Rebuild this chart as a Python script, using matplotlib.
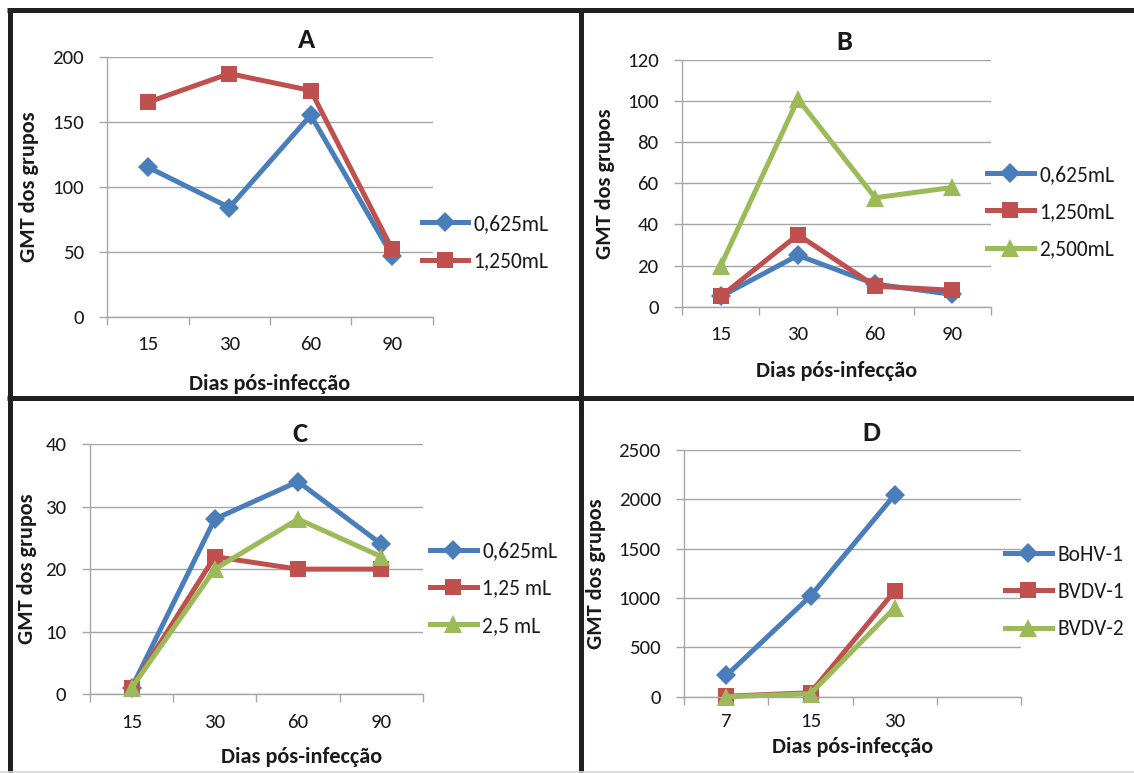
import matplotlib
matplotlib.use("Agg")
import matplotlib.pyplot as plt
from matplotlib.lines import Line2D
from matplotlib import font_manager

fonts = font_manager.fontManager.ttflist
def has_bold(name):
    return any(f.name == name and (f.weight in ('bold', 700, 'heavy') or
               (isinstance(f.weight, int) and f.weight >= 600)) for f in fonts)
names = {f.name for f in fonts}
CANDS = ['Carlito', 'Calibri', 'Lato', 'Open Sans', 'Liberation Sans']
FONT = next((c for c in CANDS if c in names and has_bold(c)), 'DejaVu Sans')
plt.rcParams['font.family'] = [FONT, 'DejaVu Sans']

# ---- data ----
days_abc = ["15", "30", "60", "90"]
days_d = ["7", "15", "30", ""]

a_labels = ["0,625mL", "1,250mL"]
a_0625 = [115, 84, 155, 47]
a_1250 = [165, 187, 174, 52]

b_labels = ["0,625mL", "1,250mL", "2,500mL"]
b_0625 = [5, 25, 11, 6]
b_1250 = [5, 35, 10, 8]
b_2500 = [20, 101, 53, 58]

c_labels = ["0,625mL", "1,25 mL", "2,5 mL"]
c_0625 = [1, 28, 34, 24]
c_125 = [1, 22, 20, 20]
c_25 = [1, 20, 28, 22]

d_labels = ["BoHV-1", "BVDV-1", "BVDV-2"]
d_bohv1 = [215, 1020, 2045]
d_bvdv1 = [5, 40, 1070]
d_bvdv2 = [0, 30, 900]

W, H = 1134, 773
DPI = 100
fig = plt.figure(figsize=(W / DPI, H / DPI), dpi=DPI)
fig.patch.set_facecolor('white')

BLUE = '#4A7EBB'
RED = '#C0504D'
GREEN = '#9BBB59'
GRID = '#A6A6A6'
TXT = '#1a1a1a'
STY = [dict(color=BLUE, marker='D', markersize=10),
       dict(color=RED, marker='s', markersize=11.5),
       dict(color=GREEN, marker='^', markersize=12.5)]


def fax(l, t, r, b):
    return fig.add_axes([l / W, 1 - b / H, (r - l) / W, (b - t) / H])


def panel(box, cats, series, labels, ymax, ystep, title, title_xy,
          leg_xy, ylab_x, xlab_x=0.5, xlab_y=-0.22, xpad=14):
    ax = fax(*box)
    for vals, lab, st in zip(series, labels, STY):
        ax.plot(range(len(vals)), vals, lw=3.6, label=lab,
                markeredgewidth=0, solid_joinstyle='round', clip_on=False, **st)
    ax.set_xlim(-0.5, len(cats) - 0.5)
    ax.set_ylim(0, ymax)
    ax.set_yticks(range(0, ymax + 1, ystep))
    ax.set_xticks(range(len(cats)))
    ax.set_xticklabels(cats)
    ax.set_xticks([i - 0.5 for i in range(len(cats) + 1)], minor=True)
    ax.tick_params(axis='x', which='major', length=0, pad=xpad, labelsize=15, labelcolor=TXT)
    ax.tick_params(axis='x', which='minor', length=6, width=1, color=GRID, direction='out')
    ax.tick_params(axis='y', length=6, width=1, color=GRID, pad=11, labelsize=15, labelcolor=TXT)
    ax.grid(axis='y', color=GRID, lw=1)
    ax.set_axisbelow(True)
    for s in ('top', 'right'):
        ax.spines[s].set_visible(False)
    for s in ('left', 'bottom'):
        ax.spines[s].set_color(GRID)
        ax.spines[s].set_linewidth(1)
    ax.set_ylabel('GMT dos grupos', fontsize=16, fontweight='bold', color=TXT)
    ax.yaxis.set_label_coords(ylab_x, 0.5)
    ax.set_xlabel('Dias pós-infecção', fontsize=16, fontweight='bold', color=TXT)
    ax.xaxis.set_label_coords(xlab_x, xlab_y)
    fig.text(title_xy[0] / W, 1 - title_xy[1] / H, title, ha='center', va='baseline',
             fontsize=20.5, fontweight='bold', color=TXT)
    ax.legend(loc='center left', bbox_to_anchor=(leg_xy[0] / W, 1 - leg_xy[1] / H),
              bbox_transform=fig.transFigure, frameon=False, fontsize=15.5,
              handlelength=2.15, handletextpad=0.26, labelspacing=0.8,
              borderpad=0, borderaxespad=0, labelcolor=TXT)
    return ax


panel((107.3, 56.7, 432.8, 316.7), days_abc, [a_0625, a_1250], a_labels,
      200, 50, 'A', (307, 48), (421.7, 242.5), -0.21, xlab_y=-0.22)
panel((682.2, 60, 990.9, 306.7), days_abc, [b_0625, b_1250, b_2500], b_labels,
      120, 20, 'B', (844.5, 50), (987.3, 212), -0.218, xlab_y=-0.22)
panel((89.9, 444, 422.9, 694.3), days_abc, [c_0625, c_125, c_25], c_labels,
      40, 10, 'C', (299.7, 442), (430.3, 588.5), -0.159, xlab_x=0.635, xlab_y=-0.21)
panel((684.4, 450, 1020.7, 696.7), days_d, [d_bohv1, d_bvdv1, d_bvdv2], d_labels,
      2500, 500, 'D', (871.4, 441), (1005.3, 592), -0.233, xlab_y=-0.165, xpad=12)

# panel borders
BORDER = '#231F20'
LW = 5 * 72 / DPI
def hline(y, x0, x1, color=BORDER, lw=LW):
    fig.add_artist(Line2D([x0 / W, x1 / W], [1 - y / H, 1 - y / H], color=color, lw=lw,
                          solid_capstyle='butt'))
def vline(x, y0, y1):
    fig.add_artist(Line2D([x / W, x / W], [1 - y0 / H, 1 - y1 / H], color=BORDER, lw=LW,
                          solid_capstyle='butt'))

hline(10, 7.3, W)
hline(397.5, 7.3, W)
vline(9.8, 7.5, H)
vline(580.5, 7.5, H)
hline(772, 0, W, color='#D9D9D9', lw=1.2)

fig.savefig('out.png', dpi=DPI, facecolor='white')
